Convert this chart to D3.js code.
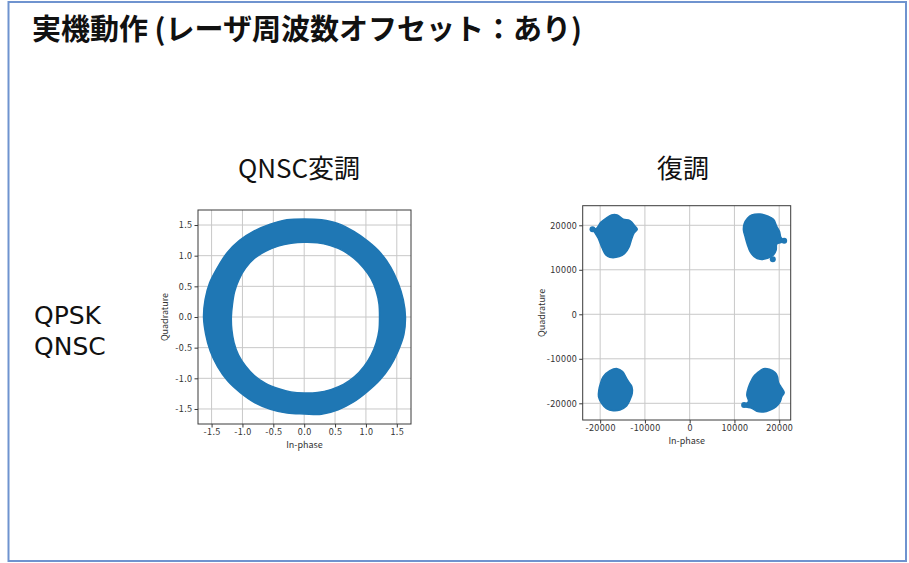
<!DOCTYPE html>
<html>
<head>
<meta charset="utf-8">
<script src="https://cdn.jsdelivr.net/npm/d3@7"></script>
<style>
  html, body { margin: 0; padding: 0; background: #fff; }
  svg { display: block; }
</style>
</head>
<body>
<svg id="slide" width="909" height="563"></svg>
<script>
// ---- Slide texts ----
const titleText = "実機動作 (レーザ周波数オフセット：あり)";
const rowLabels = ["QPSK", "QNSC"];
const panelTitles = ["QNSC変調", "復調"];
const xAxisLabel = "In-phase";
const yAxisLabel = "Quadrature";

// ---- Left panel: modulated signal (ring) ----
const ringTicks = [-1.5, -1.0, -0.5, 0.0, 0.5, 1.0, 1.5];
const ringTickLabels = ["-1.5", "-1.0", "-0.5", "0.0", "0.5", "1.0", "1.5"];
const ringAngles = d3.range(0, 360, 10); // degrees
const ringOuter = [1.64, 1.63, 1.62, 1.62, 1.62, 1.61, 1.61, 1.62, 1.61, 1.60,
                   1.61, 1.61, 1.62, 1.63, 1.63, 1.62, 1.63, 1.63, 1.63, 1.62,
                   1.62, 1.62, 1.62, 1.61, 1.61, 1.60, 1.59, 1.58, 1.61, 1.61,
                   1.60, 1.59, 1.60, 1.61, 1.62, 1.64];
const ringInner = [1.22, 1.23, 1.24, 1.25, 1.25, 1.25, 1.25, 1.24, 1.23, 1.22,
                   1.22, 1.23, 1.24, 1.25, 1.24, 1.22, 1.20, 1.18, 1.18, 1.19,
                   1.21, 1.23, 1.24, 1.25, 1.25, 1.24, 1.24, 1.24, 1.25, 1.26,
                   1.27, 1.27, 1.26, 1.25, 1.24, 1.23];

// ---- Right panel: demodulated signal (four clusters) ----
const clusterTicks = [-20000, -10000, 0, 10000, 20000];
const clusterTickLabels = ["-20000", "-10000", "0", "10000", "20000"];
const clusterTopLeft = [
  [-17460, 22320], [-16190, 22320], [-14850, 21350], [-13350, 21050], [-12230, 19850],
  [-11710, 19100], [-12460, 18200], [-12980, 16850], [-13500, 15200], [-14470, 13710],
  [-15740, 12960], [-17830, 12810], [-18720, 13330], [-19690, 15200], [-20440, 17080],
  [-21190, 18350], [-21710, 19100], [-20810, 19320], [-19920, 20600], [-18720, 21570]];
const clusterTopRight = [
  [13880, 22320], [15740, 22540], [17380, 22100], [18720, 21350], [19470, 19700],
  [20070, 18580], [20370, 17300], [20960, 16550], [20370, 16100], [19470, 15800],
  [19320, 14460], [18720, 13330], [17380, 12580], [15740, 12360], [14400, 12960],
  [13500, 14080], [12910, 15580], [12380, 17450], [12010, 18950], [12160, 20300],
  [12910, 21570]];
const clusterBottomLeft = [
  [-17830, -12660], [-16190, -12210], [-14990, -12880], [-14100, -14380], [-13500, -15350],
  [-12910, -16250], [-12830, -17750], [-13350, -19250], [-14100, -20600], [-15590, -21500],
  [-17080, -21650], [-18580, -21200], [-19690, -20000], [-20370, -18500], [-20290, -17000],
  [-19920, -15500], [-19320, -14010]];
const clusterBottomRight = [
  [15000, -13260], [16490, -12210], [17830, -12360], [19100, -13110], [19620, -14010],
  [19840, -15350], [20370, -16250], [21110, -17600], [20590, -18500], [20220, -19620],
  [19320, -20750], [17980, -21500], [16490, -21950], [15000, -21800], [13880, -21120],
  [12380, -20750], [12160, -20370], [13130, -19620], [12760, -18130], [13130, -16400],
  [13650, -15130], [14250, -14010]];
const clusterOutliers = [[18570, 12360], [-21710, 19100], [21110, 16550], [12160, -20370]];

// ---- Drawing ----
const svg = d3.select("#slide");
const blue = "#1f77b4";
const frameColor = "#3a3a3a";
const gridColor = "#c8c8c8";
const tickFont = "'Noto Sans CJK JP', 'Noto Sans', sans-serif";

// slide border
svg.append("rect")
  .attr("x", 8.5).attr("y", 2).attr("width", 897.5).attr("height", 559)
  .attr("fill", "#fff").attr("stroke", "#6f93cf").attr("stroke-width", 2);

// title
svg.append("text")
  .attr("x", 32).attr("y", 40)
  .attr("font-family", "'Noto Sans CJK JP', sans-serif")
  .attr("font-weight", 700).attr("font-size", 29)
  .attr("fill", "#111")
  .text(titleText);

// row labels
svg.selectAll("text.row").data(rowLabels).join("text")
  .attr("class", "row")
  .attr("x", 34).attr("y", (d, i) => 324 + i * 31)
  .attr("font-family", "'DejaVu Sans', sans-serif")
  .attr("font-size", 25).attr("fill", "#111")
  .text(d => d);

// panel titles
const panelCenters = [299, 683];
svg.selectAll("text.ptitle").data(panelTitles).join("text")
  .attr("class", "ptitle")
  .attr("x", (d, i) => panelCenters[i]).attr("y", 178)
  .attr("text-anchor", "middle")
  .attr("font-family", "'Noto Sans CJK JP', sans-serif")
  .attr("font-size", 26).attr("fill", "#111")
  .text(d => d);

function drawGrid(g, x, y, ticks) {
  const [x0, x1] = x.range();
  const [y0, y1] = y.range(); // y0 bottom, y1 top
  g.append("g").selectAll("line").data(ticks).join("line")
    .attr("x1", d => x(d)).attr("x2", d => x(d)).attr("y1", y1).attr("y2", y0)
    .attr("stroke", gridColor).attr("stroke-width", 1);
  g.append("g").selectAll("line").data(ticks).join("line")
    .attr("y1", d => y(d)).attr("y2", d => y(d)).attr("x1", x0).attr("x2", x1)
    .attr("stroke", gridColor).attr("stroke-width", 1);
}

function drawFrame(g, x, y, ticks, labels, ylabelX) {
  const [x0, x1] = x.range();
  const [y0, y1] = y.range();
  g.append("rect")
    .attr("x", x0).attr("y", y1).attr("width", x1 - x0).attr("height", y0 - y1)
    .attr("fill", "none").attr("stroke", frameColor).attr("stroke-width", 1);
  const xa = d3.axisBottom(x).tickValues(ticks).tickFormat((d, i) => labels[i])
    .tickSizeInner(3.5).tickSizeOuter(0).tickPadding(1.5);
  const ya = d3.axisLeft(y).tickValues(ticks).tickFormat((d, i) => labels[i])
    .tickSizeInner(3.5).tickSizeOuter(0).tickPadding(2);
  const gx = g.append("g").attr("transform", `translate(0,${y0})`).call(xa);
  const gy = g.append("g").attr("transform", `translate(${x0},0)`).call(ya);
  [gx, gy].forEach(a => {
    a.select(".domain").remove();
    a.selectAll("line").attr("stroke", frameColor);
    a.selectAll("text").attr("font-family", tickFont).attr("font-size", 9)
      .attr("fill", "#333").attr("letter-spacing", 0.4);
  });
  g.append("text")
    .attr("x", (x0 + x1) / 2).attr("y", y0 + 24)
    .attr("text-anchor", "middle")
    .attr("font-family", tickFont).attr("font-size", 9).attr("fill", "#333")
    .text(xAxisLabel);
  g.append("text")
    .attr("transform", `translate(${ylabelX},${(y0 + y1) / 2}) rotate(-90)`)
    .attr("text-anchor", "middle")
    .attr("font-family", tickFont).attr("font-size", 9).attr("fill", "#333")
    .text(yAxisLabel);
}

// left panel
const xL = d3.scaleLinear().domain([-1.72, 1.73]).range([198, 411]);
const yL = d3.scaleLinear().domain([-1.745, 1.745]).range([424, 210]);
const gL = svg.append("g");
drawGrid(gL, xL, yL, ringTicks);

const toXY = (r, deg) => [r * Math.cos(deg * Math.PI / 180), r * Math.sin(deg * Math.PI / 180)];
const outerPts = ringAngles.map((a, i) => toXY(ringOuter[i], a));
const innerPts = ringAngles.map((a, i) => toXY(ringInner[i], a));
const ringLine = d3.line().x(d => xL(d[0])).y(d => yL(d[1])).curve(d3.curveCatmullRomClosed);
gL.append("path")
  .attr("d", ringLine(outerPts) + ringLine(innerPts))
  .attr("fill", blue).attr("fill-rule", "evenodd")
  .attr("stroke", blue).attr("stroke-width", 1.5).attr("stroke-linejoin", "round");
drawFrame(gL, xL, yL, ringTicks, ringTickLabels, 168);

// right panel
const xR = d3.scaleLinear().domain([-23900, 22570]).range([582.7, 790.7]);
const yR = d3.scaleLinear().domain([-23750, 24400]).range([420, 205.7]);
const gR = svg.append("g");
drawGrid(gR, xR, yR, clusterTicks);
const clusterLine = d3.line().x(d => xR(d[0])).y(d => yR(d[1])).curve(d3.curveCatmullRomClosed);
gR.selectAll("path.cluster")
  .data([clusterTopLeft, clusterTopRight, clusterBottomLeft, clusterBottomRight])
  .join("path").attr("class", "cluster")
  .attr("d", d => clusterLine(d))
  .attr("fill", blue).attr("stroke", blue).attr("stroke-width", 1.5)
  .attr("stroke-linejoin", "round");
gR.selectAll("circle.out").data(clusterOutliers).join("circle")
  .attr("class", "out")
  .attr("cx", d => xR(d[0])).attr("cy", d => yR(d[1])).attr("r", 3)
  .attr("fill", blue);
drawFrame(gR, xR, yR, clusterTicks, clusterTickLabels, 545);
</script>
</body>
</html>
